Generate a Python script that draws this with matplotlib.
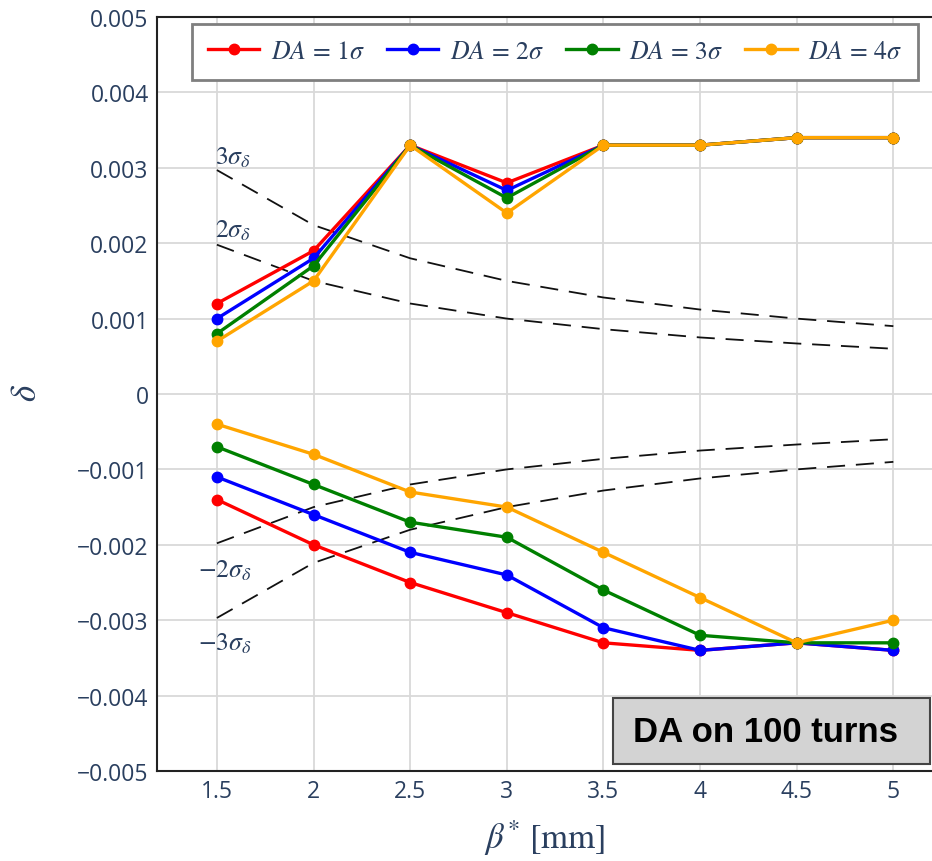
import numpy as np
import matplotlib
matplotlib.use('Agg')
import matplotlib.pyplot as plt
from matplotlib.patches import Rectangle

plt.rcParams['mathtext.fontset'] = 'stix'
plt.rcParams['font.family'] = ['Open Sans', 'DejaVu Sans']

beta = [1.5, 2, 2.5, 3, 3.5, 4, 4.5, 5]

# upper (positive) DA boundary
up_1s = [0.0012, 0.0019, 0.0033, 0.0028, 0.0033, 0.0033, 0.0034, 0.0034]
up_2s = [0.0010, 0.0018, 0.0033, 0.0027, 0.0033, 0.0033, 0.0034, 0.0034]
up_3s = [0.0008, 0.0017, 0.0033, 0.0026, 0.0033, 0.0033, 0.0034, 0.0034]
up_4s = [0.0007, 0.0015, 0.0033, 0.0024, 0.0033, 0.0033, 0.0034, 0.0034]
# lower (negative) DA boundary
lo_1s = [-0.0014, -0.0020, -0.0025, -0.0029, -0.0033, -0.0034, -0.0033, -0.0034]
lo_2s = [-0.0011, -0.0016, -0.0021, -0.0024, -0.0031, -0.0034, -0.0033, -0.0034]
lo_3s = [-0.0007, -0.0012, -0.0017, -0.0019, -0.0026, -0.0032, -0.0033, -0.0033]
lo_4s = [-0.0004, -0.0008, -0.0013, -0.0015, -0.0021, -0.0027, -0.0033, -0.0030]

# energy spread envelopes read at each beta*
sig3 = [0.00297, 0.00224, 0.00180, 0.00150, 0.00128, 0.00112, 0.00100, 0.00090]
sig2 = [0.00198, 0.00150, 0.00120, 0.00100, 0.00086, 0.00075, 0.00067, 0.00060]

labels = [r'$DA\,=\,1\sigma$', r'$DA\,=\,2\sigma$', r'$DA\,=\,3\sigma$', r'$DA\,=\,4\sigma$']
colors = ['#ff0000', '#0000ff', '#008000', '#ffa500']
ups = [up_1s, up_2s, up_3s, up_4s]
los = [lo_1s, lo_2s, lo_3s, lo_4s]

txtc = '#2a3f5f'

fig = plt.figure(figsize=(9.32, 8.62), dpi=100)
ax = fig.add_axes([157/932, 1-772/862, 1-157/932, (772-18)/862])

b = np.array(beta)
for s in [sig3, sig2]:
    s = np.array(s)
    ax.plot(b, s, color='#111111', lw=1.3, dashes=(10, 6), zorder=2)
    ax.plot(b, -s, color='#111111', lw=1.3, dashes=(10, 6), zorder=2)

for up, lo, c, lab in zip(ups, los, colors, labels):
    ax.plot(beta, up, color=c, lw=2.4, marker='o', ms=7.5, label=lab, zorder=3)
    ax.plot(beta, lo, color=c, lw=2.4, marker='o', ms=7.5, zorder=3)

tk = dict(color=txtc, fontsize=18.5)
ax.text(1.49, 0.00314, r'$3\sigma_\delta$', va='center', ha='left', **tk)
ax.text(1.49, 0.00217, r'$2\sigma_\delta$', va='center', ha='left', **tk)
ax.text(1.40, -0.00233, r'$-2\sigma_\delta$', va='center', ha='left', **tk)
ax.text(1.40, -0.00330, r'$-3\sigma_\delta$', va='center', ha='left', **tk)

ax.set_xlim(1.19, 5.2)
ax.set_ylim(-0.005, 0.005)
ax.set_xticks(beta)
ax.set_xticklabels(['1.5', '2', '2.5', '3', '3.5', '4', '4.5', '5'])
ax.set_yticks(np.arange(-0.005, 0.0051, 0.001))
ax.set_yticklabels(['\u22120.005', '\u22120.004', '\u22120.003', '\u22120.002', '\u22120.001',
                    '0', '0.001', '0.002', '0.003', '0.004', '0.005'])
ax.tick_params(length=0, labelsize=16.5, labelcolor=txtc, pad=6)
ax.grid(True, color='#d9d9d9', lw=1.3)
ax.set_axisbelow(True)
for sp in ['left', 'bottom', 'top']:
    ax.spines[sp].set_color('#222222')
    ax.spines[sp].set_linewidth(1.5)
ax.spines['right'].set_visible(False)

ax.set_xlabel(r'$\beta^{*}\ \mathrm{[mm]}$', fontsize=25, color=txtc, labelpad=10)
fig.text(27/932, 1-393/862, r'$\delta$', fontsize=25, color=txtc, rotation=90,
         ha='center', va='center')

leg = ax.legend(ncol=4, loc='upper right', bbox_to_anchor=(918/932, 1-25/862),
                bbox_transform=fig.transFigure, borderaxespad=0, fontsize=18.5,
                fancybox=False, framealpha=1, handlelength=2.0, columnspacing=0.85,
                handletextpad=0.45, borderpad=0.6)
leg.get_frame().set_edgecolor('#7f7f7f')
leg.get_frame().set_linewidth(2)
for t in leg.get_texts():
    t.set_color(txtc)

fig.add_artist(Rectangle((613/932, 1-765/862), (930-613)/932, 66/862,
                         transform=fig.transFigure, facecolor='#d3d3d3',
                         edgecolor='#444444', lw=1.5, zorder=5))
fig.text(633/932, 1-733/862, 'DA on 100 turns', fontsize=25, fontweight='bold',
         family='Liberation Sans', color='black', ha='left', va='center', zorder=6)

fig.savefig('out.png', dpi=100)
